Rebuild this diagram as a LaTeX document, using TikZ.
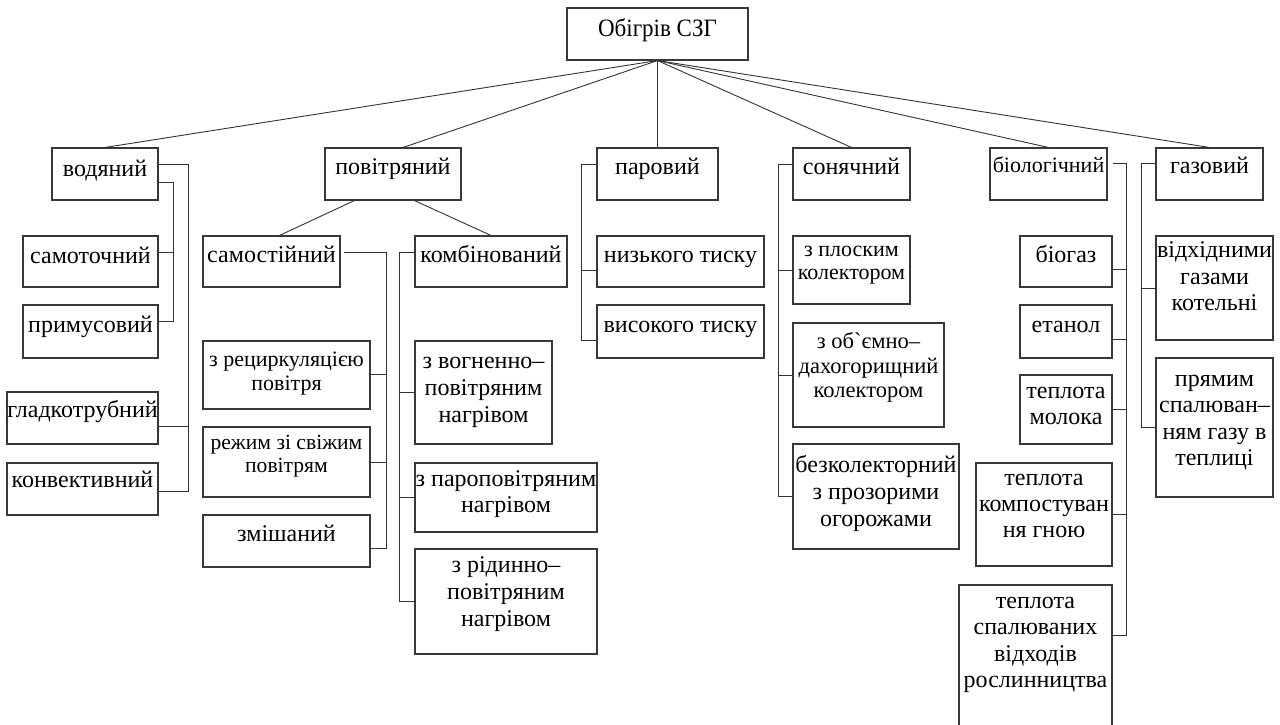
\documentclass[tikz,border=0pt]{standalone}
\usepackage{fontspec}
\usepackage{graphicx}
\setmainfont{Liberation Serif}
\newcommand\fsz[2]{\fontsize{#1}{#2}\selectfont}
\newcommand\fN{\fontsize{24}{27}\selectfont}
\tikzset{
  bx/.style={draw=black!78, line width=1.1pt, inner sep=0pt, fill=none},
  txt/.style={inner sep=0pt, align=center, text=black},
  conn/.style={draw=black!80, line width=0.9pt}
}
% name, x1, y1, x2, y2, font, first baseline, text
\newcommand\mkbox[8]{%
  \node[bx, minimum width={#4-#2}, minimum height={#5-#3}] (#1) at ({(#2+#4)/2},{(#3+#5)/2}) {};
  \node[txt, font={#6}, anchor=north] (#1-t) at (#1.north) {\rule{0pt}{#7pt}#8};
}
\begin{document}
\begin{tikzpicture}[x=1pt,y=-1pt]
\fill[white] (0,0) rectangle (1280,724);
\useasboundingbox (0,0) rectangle (1280,724);

% root and first level
\mkbox{root}{567}{8}{748}{60}{\fsz{25}{28}}{29}{\scalebox{0.92}[1]{Обігрів СЗГ}}
\mkbox{vod}{52}{148}{158}{200}{\fN}{29}{водяний}
\mkbox{pov}{325}{148}{461}{200}{\fN}{27}{повітряний}
\mkbox{par}{597}{148}{718}{200}{\fN}{27}{паровий}
\mkbox{son}{793}{148}{910}{200}{\fN}{27}{сонячний}
\mkbox{bio}{990}{148}{1107}{200}{\fsz{22}{24}}{25}{біологічний}
\mkbox{gaz}{1156}{148}{1263}{200}{\fN}{26}{газовий}

% water
\mkbox{samot}{23}{236}{158}{287}{\fN}{28}{самоточний}
\mkbox{primus}{23}{305}{158}{358}{\fN}{28}{примусовий}
\mkbox{gladk}{7}{392}{158}{444}{\fN}{26}{гладкотрубний}
\mkbox{konv}{7}{463}{158}{515}{\fN}{25}{конвективний}

% air
\mkbox{samost}{203}{236}{340}{287}{\fN}{27}{самостійний}
\mkbox{komb}{415}{236}{567}{287}{\fN}{27}{комбінований}
\mkbox{recirc}{203}{341}{370}{409}{\fsz{22}{23.5}}{26}{з рециркуляцією\\повітря}
\mkbox{rezhim}{203}{427}{370}{497}{\fsz{21.6}{23}}{23}{режим зі свіжим\\повітрям}
\mkbox{zmish}{203}{515}{370}{567}{\fN}{27}{змішаний}
\mkbox{vogn}{415}{341}{552}{444}{\fN}{28}{з вогненно–\\повітряним\\нагрівом}
\mkbox{parop}{415}{463}{597}{532}{\fsz{24}{26}}{24}{з пароповітряним\\нагрівом}
\mkbox{ridyn}{415}{549}{597}{654}{\fN}{24}{з рідинно–\\повітряним\\нагрівом}

% steam
\mkbox{nyzk}{597}{236}{764}{287}{\fN}{27}{низького тиску}
\mkbox{vys}{597}{305}{764}{358}{\fN}{28}{високого тиску}

% solar
\mkbox{plosk}{793}{236}{910}{304}{\fsz{22}{23}}{21}{з плоским\\колектором}
\mkbox{obem}{793}{323}{944}{427}{\fsz{22.5}{24.5}}{26}{з об\textasciigrave ємно–\\дахогорищний\\колектором}
\mkbox{bezk}{793}{444}{959}{549}{\fN}{29}{безколекторний\\з прозорими\\огорожами}

% biological
\mkbox{biogaz}{1020}{236}{1112}{287}{\fN}{27}{біогаз}
\mkbox{etanol}{1020}{305}{1112}{358}{\fN}{28}{етанол}
\mkbox{moloko}{1020}{375}{1112}{444}{\fsz{24}{26}}{24}{теплота\\молока}
\mkbox{kompost}{976}{463}{1112}{566}{\fsz{24}{26}}{23}{теплота\\компостуван\\ня гною}
\mkbox{vidkh}{959}{585}{1112}{740}{\fsz{24}{26.3}}{24}{теплота\\спалюваних\\відходів\\рослинництва}

% gas
\mkbox{vidhid}{1156}{236}{1273}{340}{\fsz{24}{26.5}}{22}{відхідними\\газами\\котельні}
\mkbox{pryam}{1156}{358}{1273}{497}{\fsz{24}{26.5}}{28.5}{прямим\\спалюван–\\ням газу в\\теплиці}

% root connectors
\foreach \n in {vod,par,son,bio,gaz} \draw[conn] (root.south) -- (\n.north);
\draw[conn] (root.south) -- ([xshift=10pt]pov.north);

% water connectors
\draw[conn] ([yshift=-17pt]vod.north east) -- ++(30,0) |- ([yshift=-29pt]konv.north east);
\draw[conn] ([yshift=-35pt]gladk.north east) -- ++(30,0);
\draw[conn] ([yshift=-35pt]vod.north east) -- ++(15,0) |- ([yshift=-17pt]primus.north east);
\draw[conn] ([yshift=-17pt]samot.north east) -- ++(15,0);

% air connectors
\draw[conn] ([xshift=30pt]pov.south west) -- ([xshift=77pt]samost.north west);
\draw[conn] ([xshift=90pt]pov.south west) -- (komb.north);
\draw[conn] ([xshift=3pt,yshift=-17pt]samost.north east) -- ++(43,0) |- ([yshift=-34pt]zmish.north east);
\draw[conn] ([yshift=-34pt]recirc.north east) -- ++(16,0);
\draw[conn] ([yshift=-36pt]rezhim.north east) -- ++(16,0);
\draw[conn] ([yshift=-17pt]komb.north west) -- ++(-15,0) |- (ridyn.west);
\draw[conn] (vogn.west) -- ++(-15,0);
\draw[conn] (parop.west) -- ++(-15,0);

% steam connectors
\draw[conn] ([yshift=-17pt]par.north west) -- ++(-15,0) |- ([yshift=-36pt]vys.north west);
\draw[conn] ([yshift=-35pt]nyzk.north west) -- ++(-15,0);

% solar connectors
\draw[conn] ([yshift=-17pt]son.north west) -- ++(-14,0) |- (bezk.west);
\draw[conn] ([yshift=-35pt]plosk.north west) -- ++(-14,0);
\draw[conn] (obem.west) -- ++(-14,0);

% biological connectors
\draw[conn] ([xshift=5pt,yshift=-16pt]bio.north east) -- ++(14,0) |- ([yshift=-51pt]vidkh.north east);
\draw[conn] ([yshift=-34pt]biogaz.north east) -- ++(14,0);
\draw[conn] ([yshift=-35pt]etanol.north east) -- ++(14,0);
\draw[conn] (moloko.east) -- ++(14,0);
\draw[conn] (kompost.east) -- ++(14,0);

% gas connectors
\draw[conn] ([yshift=-16pt]gaz.north west) -- ++(-14,0) |- (pryam.west);
\draw[conn] (vidhid.west) -- ++(-14,0);
\end{tikzpicture}
\end{document}
